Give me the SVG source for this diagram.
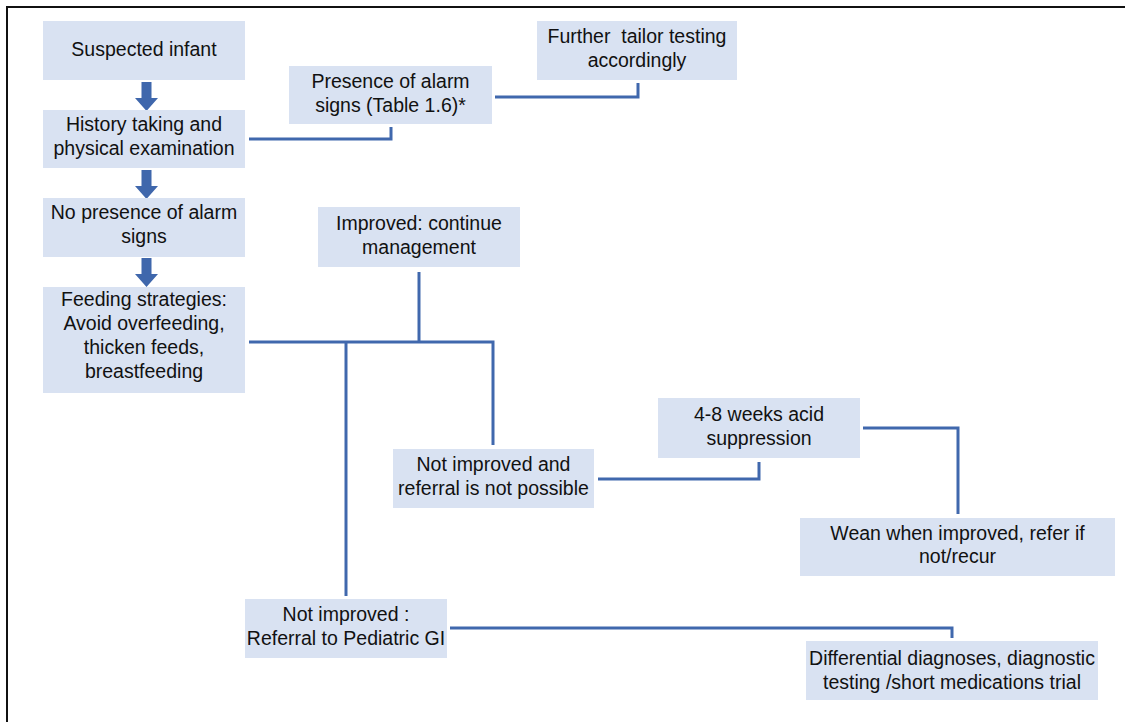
<svg xmlns="http://www.w3.org/2000/svg" width="1125" height="722" viewBox="0 0 1125 722">
<style>
.box{fill:#d9e2f2}
.t{font-family:"Liberation Sans",Arial,sans-serif;font-size:19.5px;fill:#111;text-anchor:middle}
.c{fill:none;stroke:#4068ad;stroke-width:3}
.a{fill:#3f67ac}
</style>
<defs>
<path id="barrow" d="M-5,0 H5 V16 H11.5 L0,29 L-11.5,16 H-5 Z"/>
</defs>
<rect width="1125" height="722" fill="#fff"/>
<path d="M7,722 V7 H1125" fill="none" stroke="#111" stroke-width="2"/>
<g id="connectors">
<path class="c" d="M249,139 H391 V127"/>
<path class="c" d="M495,97 H638 V83"/>
<path class="c" d="M249,342 H493 V445"/>
<path class="c" d="M419,272 V342"/>
<path class="c" d="M346,342 V596"/>
<path class="c" d="M598,479 H759 V462"/>
<path class="c" d="M863,428 H958 V514"/>
<path class="c" d="M450,628 H952 V638"/>
<use href="#barrow" class="a" x="146.5" y="82"/>
<use href="#barrow" class="a" x="146.5" y="170"/>
<use href="#barrow" class="a" x="146.5" y="258"/>
</g>
<g id="n1"><rect class="box" x="43" y="21" width="202" height="59"/><text class="t" x="144" y="56">Suspected infant</text></g>
<g id="n2"><rect class="box" x="43" y="110" width="202" height="58"/><text class="t" x="144" y="131">History taking and</text><text class="t" x="144" y="155">physical examination</text></g>
<g id="n3"><rect class="box" x="43" y="198" width="202" height="59"/><text class="t" x="144" y="219">No presence of alarm</text><text class="t" x="144" y="243">signs</text></g>
<g id="n4"><rect class="box" x="43" y="287" width="202" height="106"/><text class="t" x="144" y="306">Feeding strategies:</text><text class="t" x="144" y="330">Avoid overfeeding,</text><text class="t" x="144" y="354">thicken feeds,</text><text class="t" x="144" y="378">breastfeeding</text></g>
<g id="n5"><rect class="box" x="289" y="66" width="203" height="58"/><text class="t" x="390.5" y="88">Presence of alarm</text><text class="t" x="390.5" y="112">signs (Table 1.6)*</text></g>
<g id="n6"><rect class="box" x="537" y="21" width="200" height="59"/><text class="t" x="637" y="43" xml:space="preserve">Further  tailor testing</text><text class="t" x="637" y="67">accordingly</text></g>
<g id="n7"><rect class="box" x="318" y="207" width="202" height="60"/><text class="t" x="419" y="230">Improved: continue</text><text class="t" x="419" y="254">management</text></g>
<g id="n8"><rect class="box" x="658" y="398" width="202" height="60"/><text class="t" x="759" y="421">4-8 weeks acid</text><text class="t" x="759" y="445">suppression</text></g>
<g id="n9"><rect class="box" x="393" y="449" width="201" height="59"/><text class="t" x="493.5" y="471">Not improved and</text><text class="t" x="493.5" y="495">referral is not possible</text></g>
<g id="n10"><rect class="box" x="800" y="518" width="315" height="58"/><text class="t" x="957.5" y="540">Wean when improved, refer if</text><text class="t" x="957.5" y="563">not/recur</text></g>
<g id="n11"><rect class="box" x="245" y="599" width="202" height="59"/><text class="t" x="346" y="621">Not improved :</text><text class="t" x="346" y="645">Referral to Pediatric GI</text></g>
<g id="n12"><rect class="box" x="806" y="641" width="292" height="59"/><text class="t" x="952" y="665">Differential diagnoses, diagnostic</text><text class="t" x="952" y="689">testing /short medications trial</text></g>
</svg>
